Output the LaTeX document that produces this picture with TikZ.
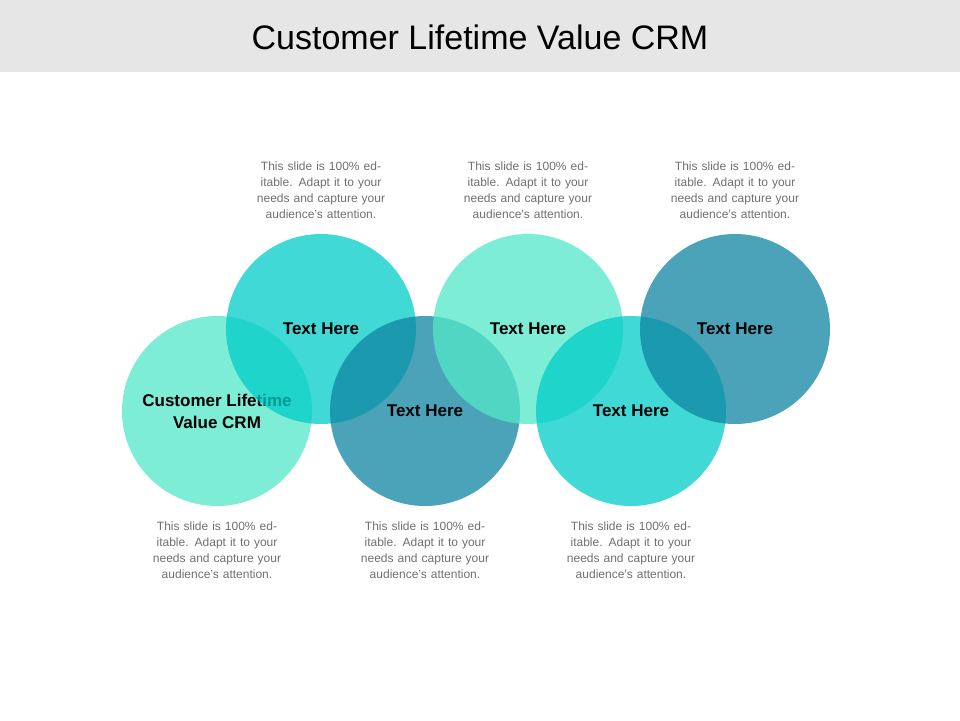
\documentclass[tikz,border=0pt]{standalone}
\usepackage{fontspec}
\setmainfont{Liberation Sans}
\usetikzlibrary{positioning}
\definecolor{hdrgray}{HTML}{E7E6E6}
\definecolor{mint}{RGB}{83,231,200}
\definecolor{aqua}{RGB}{0,204,200}
\definecolor{teal}{RGB}{15,132,163}
\definecolor{notegray}{HTML}{6F6F6F}

\begin{document}
\begin{tikzpicture}[
    x=1pt, y=-1pt,
    bubble/.style={circle, minimum size=190pt, inner sep=0pt, fill opacity=0.75, text opacity=1, align=center, font=\fontsize{17}{22}\selectfont\bfseries},
    note/.style={text width=160pt, align=center, text=notegray, font=\fontsize{12}{16}\selectfont},
]
\useasboundingbox (0,0) rectangle (960,720);

% Header
\fill[hdrgray] (0,0) rectangle (960,72);
\node[font=\fontsize{34}{40}\selectfont] (title) at (480,37) {Customer Lifetime Value CRM};

% Circles
\node[bubble, fill=mint] (c1) at (217,411) {Customer Lifetime\\Value CRM};
\node[bubble, fill=aqua] (c2) at (321,329) {Text Here};
\node[bubble, fill=teal] (c3) at (425,411) {Text Here};
\node[bubble, fill=mint] (c4) at (528,329) {Text Here};
\node[bubble, fill=aqua] (c5) at (631,411) {Text Here};
\node[bubble, fill=teal] (c6) at (735,329) {Text Here};

% Notes
\node[note, above=12pt of c2] (n2) {This slide is 100\% editable. Adapt it to your needs and capture your audience's attention.};
\node[note, above=12pt of c4] (n4) {This slide is 100\% editable. Adapt it to your needs and capture your audience's attention.};
\node[note, above=12pt of c6] (n6) {This slide is 100\% editable. Adapt it to your needs and capture your audience's attention.};
\node[note, below=12pt of c1] (n1) {This slide is 100\% editable. Adapt it to your needs and capture your audience's attention.};
\node[note, below=12pt of c3] (n3) {This slide is 100\% editable. Adapt it to your needs and capture your audience's attention.};
\node[note, below=12pt of c5] (n5) {This slide is 100\% editable. Adapt it to your needs and capture your audience's attention.};

\end{tikzpicture}
\end{document}
